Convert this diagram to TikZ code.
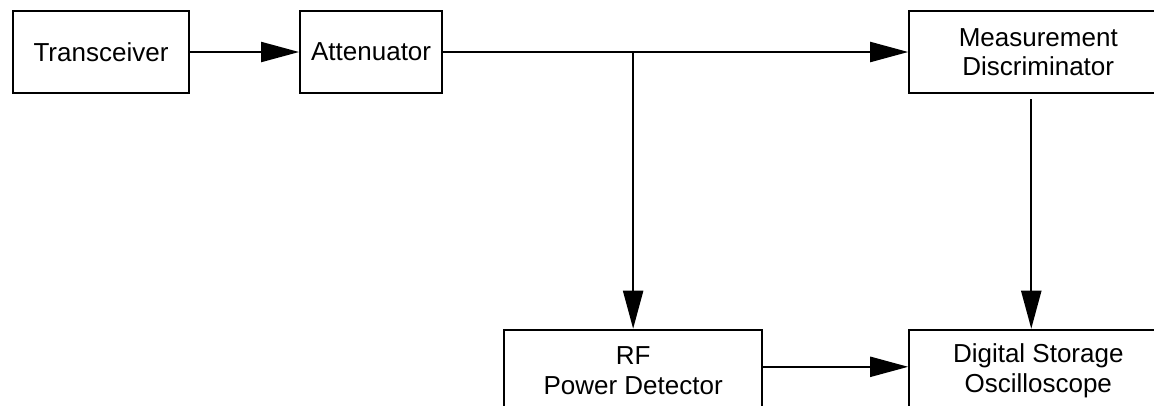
\documentclass[tikz,border=0pt]{standalone}
\usepackage{fontspec}
\setmainfont{Liberation Sans}
\usetikzlibrary{arrows.meta,positioning}

\begin{document}
\begin{tikzpicture}[x=0.75pt,y=-0.75pt,line width=1.6pt,
    >={Triangle[length=28.5pt,width=15pt]},
    block/.style={draw,rectangle,minimum height=61.5pt,inner sep=2pt,align=center,
      font=\fontsize{19.5pt}{22pt}\selectfont},
    wideblock/.style={block,minimum width=193.5pt}]
    \useasboundingbox (0,0) rectangle (1154,405);

    \node[block,minimum width=132pt]   (trans) at (101,52)            {Transceiver};
    \node[block,minimum width=106.5pt] (att)   [right=81.75pt of trans] {Attenuator};
    \node[wideblock]                   (meas)  [right=348.75pt of att]  {Measurement\\Discriminator};
    \node[wideblock]                   (dso)   [below=176pt of meas]   {Digital Storage\\Oscilloscope};
    \node[wideblock]                   (rf)    [left=108.75pt of dso]   {RF\\Power Detector};

    \coordinate (split) at (att.east -| rf.north);

    \draw[->] (trans) -- (att);
    \draw[->] (att) -- (meas);
    \draw[->] (split) -- (rf);
    \draw[->] ([xshift=-5.25pt,yshift=-3.75pt]meas.south) -- ([xshift=-5.25pt]dso.north);
    \draw[->] ([yshift=3pt]rf.east) -- ([yshift=3pt]dso.west);
\end{tikzpicture}
\end{document}
